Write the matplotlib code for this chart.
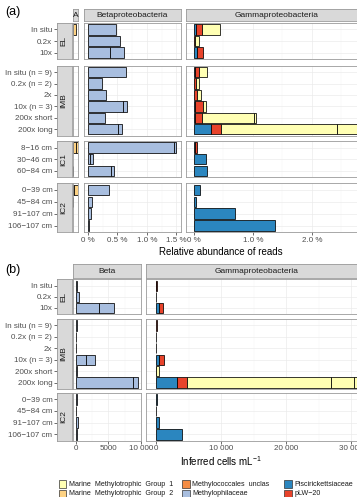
import matplotlib
matplotlib.use("Agg")
import matplotlib.pyplot as plt
from matplotlib.patches import Rectangle

plt.rcParams['font.family'] = ['Liberation Sans', 'DejaVu Sans']
plt.rcParams['mathtext.fontset'] = 'custom'
plt.rcParams['mathtext.rm'] = 'Liberation Sans'
plt.rcParams['mathtext.default'] = 'regular'

# ---- data ----
family_names = ["Marine  Methylotrophic  Group  1", "Marine  Methylotrophic  Group  2",
                "Methylococcales  unclas", "Methylophilaceae",
                "Piscirickettsiaceae", "pLW\u221220"]
family_codes = ["M1", "M2", "MU", "MP", "PI", "PL"]
family_colors = ["#FFFFB3", "#FDD283", "#F58D45", "#A8BEDF", "#2B86BF", "#E8432B"]
colors = dict(zip(family_codes, family_colors))

el_rows = ["In situ", "0.2x", "10x"]
imb_rows = ["In situ (n = 9)", "0.2x (n = 2)", "2x", "10x (n = 3)", "200x short", "200x long"]
ic1_rows = ["8\u221216 cm", "30\u221246 cm", "60\u221284 cm"]
ic2_rows = ["0\u221239 cm", "45\u221284 cm", "91\u2212107 cm", "106\u2212107 cm"]

# (a) relative abundance of reads, % ; stacked segments per row
alpha_pct = [
    [("M2", 0.054)], [], [],
    [], [], [], [], [], [],
    [("M2", 0.05), ("M2", 0.04)], [], [("M2", 0.01)],
    [("M2", 0.015), ("M2", 0.07)], [("M2", 0.01)], [], [],
]
beta_pct = [
    [("MP", 0.47)], [("MP", 0.55)], [("MP", 0.37), ("MP", 0.24)],
    [("MP", 0.64)], [("MP", 0.24)], [("MP", 0.31)], [("MP", 0.59), ("MP", 0.08)],
    [("MP", 0.29)], [("MP", 0.51), ("MP", 0.07)],
    [("MP", 1.46), ("MP", 0.04)], [("MP", 0.03), ("MP", 0.05)], [("MP", 0.39), ("MP", 0.06)],
    [("MP", 0.36)], [("MP", 0.07)], [("MP", 0.05)], [("MP", 0.01)],
]
gamma_pct = [
    [("PI", 0.03), ("PL", 0.10), ("M1", 0.31)],
    [("PL", 0.02), ("M1", 0.065)],
    [("PI", 0.045), ("PL", 0.115)],
    [("PI", 0.015), ("PL", 0.075), ("M1", 0.13)],
    [("PL", 0.03), ("M1", 0.05)],
    [("PL", 0.06), ("M1", 0.06)],
    [("PI", 0.02), ("PL", 0.13), ("M1", 0.06)],
    [("PI", 0.015), ("PL", 0.125), ("M1", 0.88), ("M1", 0.03)],
    [("PI", 0.29), ("PL", 0.16), ("M1", 1.97), ("M1", 0.34), ("M1", 0.04)],
    [("PI", 0.02), ("PL", 0.025)],
    [("PI", 0.20)],
    [("PI", 0.22)],
    [("PI", 0.10)], [("PI", 0.03)], [("PI", 0.69)], [("PI", 1.38)],
]

# (b) inferred cells per mL
beta_cells = [
    [("MP", 120)], [("MP", 550)], [("MP", 3600), ("MP", 2300)],
    [("MP", 150)], [("MP", 80)], [("MP", 100)], [("MP", 1600), ("MP", 1300)],
    [("MP", 250)], [("MP", 8750), ("MP", 850)],
    [("MP", 150)], [("MP", 60)], [("MP", 300)], [("MP", 200)],
]
gamma_cells = [
    [("PI", 60), ("PL", 60)], [("PL", 50)], [("PI", 460), ("PL", 570)],
    [("PL", 80)], [("PL", 40)], [("PL", 50)], [("PI", 500), ("PL", 730)],
    [("PI", 30), ("M1", 470)],
    [("PI", 3280), ("PL", 1440), ("M1", 22180), ("M1", 3600), ("M1", 500)],
    [("PI", 80)], [("PI", 50)], [("PI", 500)], [("PI", 3950)],
]

beta_a_ticks = [0, 0.5, 1.0, 1.5]
beta_a_labels = ["0 %", "0.5 %", "1.0 %", "1.5 %"]
gamma_a_ticks = [0, 1.0, 2.0]
gamma_a_labels = ["0 %", "1.0 %", "2.0 %"]
beta_b_ticks = [0, 5000, 10000]
beta_b_labels = ["0", "5000", "10 000"]
gamma_b_ticks = [0, 10000, 20000, 30000]
gamma_b_labels = ["0", "10 000", "20 000", "30 000"]

# ---- layout (pixels) ----
W, H = 357, 497
fig = plt.figure(figsize=(W / 100, H / 100), dpi=100)

BORDER = "#9A9A9A"
STRIP = "#D9D9D9"
TXT = "#4D4D4D"


def px_axes(x0, top, w, h, **kw):
    return fig.add_axes([x0 / W, 1 - (top + h) / H, w / W, h / H], **kw)


def style_box(ax):
    for s in ax.spines.values():
        s.set_color(BORDER)
        s.set_linewidth(0.6)


def totals(col):
    return max(sum(v for _, v in row) for row in col if row)


def draw_block(cols, groups, strip_top, strip_h, x_label, label_y):
    # cols: list of (name, data, x0, scale, ticks, labels)
    for name, data, x0, scale, ticks, labels in cols:
        M = totals(data)
        w = 1.1 * M * scale
        s = px_axes(x0, strip_top, w, strip_h)
        s.set_facecolor(STRIP)
        s.set_xticks([])
        s.set_yticks([])
        style_box(s)
        s.text(0.5, 0.45, name, transform=s.transAxes, ha="center", va="center",
               fontsize=6, color="#1A1A1A")
        start = 0
        for gi, (gname, rows, top, h) in enumerate(groups):
            n = len(rows)
            sub = data[start:start + n]
            ax = px_axes(x0, top, w, h)
            ax.set_axisbelow(True)
            for i, row in enumerate(sub):
                left = 0
                for fam, v in row:
                    ax.barh(i, v, left=left, height=0.9, color=colors[fam],
                            edgecolor="black", linewidth=0.55)
                    left += v
            ax.set_yticks(range(n))
            if ticks:
                ax.set_xticks(ticks)
                minors = [(a + b) / 2 for a, b in zip(ticks[:-1], ticks[1:])]
                step = ticks[1] - ticks[0]
                minors.append(ticks[-1] + step / 2)
                ax.set_xticks(minors, minor=True)
                ax.grid(which="major", color="#EBEBEB", linewidth=0.5)
                ax.grid(which="minor", axis="x", color="#F3F3F3", linewidth=0.35)
            else:
                ax.set_xticks([])
                ax.grid(which="major", axis="y", color="#EBEBEB", linewidth=0.5)
            # limits after ticks, so out-of-range ticks don't widen the view
            ax.set_xlim(-0.05 * M, 1.05 * M)
            ax.set_ylim(n - 0.5 + 0.06, -0.5 - 0.06)
            ax.tick_params(which="minor", length=0)
            ax.tick_params(left=False, labelleft=False)
            if gi == len(groups) - 1 and ticks:
                ax.set_xticklabels(labels)
                ax.tick_params(axis="x", length=2, width=0.5, color="#333333",
                               pad=1.2, labelsize=5.8, labelcolor=TXT)
            else:
                ax.tick_params(bottom=False, labelbottom=False)
            style_box(ax)
            start += n

    # row strips carrying the category tick labels
    for gname, rows, top, h in groups:
        n = len(rows)
        s = px_axes(56.5, top, 15.5, h)
        s.set_facecolor(STRIP)
        s.set_yticks(range(n))
        s.set_yticklabels(rows)
        s.set_ylim(n - 0.5 + 0.06, -0.5 - 0.06)
        s.set_xticks([])
        s.tick_params(axis="y", length=2, width=0.5, color="#333333", pad=1,
                      labelsize=5.8, labelcolor=TXT)
        style_box(s)
        s.text(0.5, 0.5, gname, rotation=90, transform=s.transAxes,
               ha="center", va="center", fontsize=6, color="#1A1A1A")

    fig.text(221 / W, 1 - label_y / H, x_label, ha="center", va="center",
             fontsize=7, color="black")


# panel (a)
groups_a = [("EL", el_rows, 22.7, 36.6), ("IMB", imb_rows, 65.7, 70.0),
            ("IC1", ic1_rows, 141.0, 36.3), ("IC2", ic2_rows, 183.3, 49.0)]
cols_a = [("A", alpha_pct, 72.5, 59, None, None),
          ("Betaproteobacteria", beta_pct, 83.5, 59, beta_a_ticks, beta_a_labels),
          ("Gammaproteobacteria", gamma_pct, 185.7, 59, gamma_a_ticks, gamma_a_labels)]
draw_block(cols_a, groups_a, 8.7, 12.0, "Relative abundance of reads", 252)

# panel (b)
groups_b = [("EL", el_rows, 279.3, 34.7), ("IMB", imb_rows, 319.0, 70.0),
            ("IC2", ic2_rows, 392.7, 48.3)]
cols_b = [("Beta", beta_cells, 72.7, 0.0065, beta_b_ticks, beta_b_labels),
          ("Gammaproteobacteria", gamma_cells, 146.0, 0.0065, gamma_b_ticks, gamma_b_labels)]
draw_block(cols_b, groups_b, 264.0, 14.3, "Inferred cells mL$^{-1}$", 461)

fig.text(5 / W, 1 - 12 / H, "(a)", fontsize=9, va="center", ha="left")
fig.text(5 / W, 1 - 270 / H, "(b)", fontsize=9, va="center", ha="left")

# legend
key_x = [59, 182.3, 284.3]
key_y = [484, 493.5]
for k, (name, c) in enumerate(zip(family_names, family_colors)):
    col, row = k // 2, k % 2
    x, y = key_x[col], key_y[row]
    fig.patches.append(Rectangle((x / W, 1 - (y + 3.6) / H), 7.2 / W, 7.2 / H,
                                 transform=fig.transFigure, facecolor=c,
                                 edgecolor="#333333", linewidth=0.5))
    fig.text((x + 9.8) / W, 1 - y / H, name, fontsize=5.1, va="center", ha="left",
             color="#1A1A1A")

fig.savefig("out.png", dpi=100)
